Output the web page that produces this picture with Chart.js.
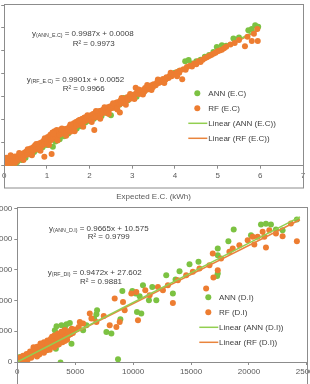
<!DOCTYPE html>
<html>
<head>
<meta charset="utf-8">
<script src="https://cdn.jsdelivr.net/npm/chart.js@4.4.1/dist/chart.umd.min.js"></script>
<style>
  html, body { margin: 0; padding: 0; background: #fff; }
  body { width: 310px; height: 384px; overflow: hidden; position: relative; }
  canvas { position: absolute; }
  #ecChart { left: 0; top: 0; width: 310px; height: 204px; }
  #diChart { left: -30px; top: 200px; width: 350px; height: 190px; }
</style>
</head>
<body>
<canvas id="ecChart" width="310" height="204"></canvas>
<canvas id="diChart" width="350" height="190"></canvas>
<script>
const GREEN = "#7cc242", ORANGE = "#ed7d31";
const GREEN_LINE = "#92cf50", ORANGE_LINE = "#e9843c";
const AXIS = "#8c8c8c", TXT = "#595959", EQ = "#404040";
const FONT = '"Liberation Sans", Arial, sans-serif';

// ---- E.C chart (top) ----
const ecAnn = [
  [0.00,-0.10],[0.05,0.00],[0.10,0.05],[0.24,0.00],[0.30,0.15],[0.40,0.25],[0.50,0.35],[0.60,0.50],
  [0.70,0.60],[0.80,0.70],[0.90,0.80],[1.00,0.90],[1.14,0.83],[1.20,1.05],[1.30,1.15],[1.40,1.28],
  [1.50,1.40],[1.60,1.55],[1.70,1.62],[1.80,1.72],[1.90,1.88],[2.00,1.95],[2.10,2.05],[2.20,2.12],
  [2.28,2.16],[2.40,2.30],[2.50,2.20],[2.60,2.52],[2.70,2.65],[2.80,2.95],[2.90,2.85],[3.00,3.08],
  [3.10,3.00],[3.20,3.22],[3.30,3.28],[3.40,3.42],[3.50,3.48],[3.60,3.65],[3.70,3.72],[3.80,3.80],
  [3.90,3.95],[4.00,4.05],[4.10,4.12],[4.24,4.55],[4.32,4.60],[4.40,4.45],[4.50,4.55],[4.60,4.62],
  [4.70,4.75],[4.80,4.82],[4.90,4.95],[4.98,5.17],[5.10,5.25],[5.20,5.22],[5.37,5.54],[5.50,5.58],
  [5.72,5.90],[5.80,5.95],[5.88,6.12],[5.95,6.05]
];
const ecRf = [
  [0.00,0.05],[0.02,0.20],[0.04,0.10],[0.06,0.28],[0.08,0.02],[0.10,0.15],[0.12,0.32],[0.14,0.08],
  [0.16,0.22],[0.18,0.12],[0.20,0.30],[0.22,0.18],[0.25,0.40],[0.27,0.25],[0.30,0.20],[0.32,0.42],
  [0.34,0.30],[0.37,0.48],[0.40,0.35],[0.42,0.52],[0.45,0.40],[0.48,0.58],[0.50,0.45],
  [0.52,0.62],[0.55,0.50],[0.57,0.70],[0.60,0.55],[0.62,0.75],[0.65,0.60],[0.68,0.80],[0.70,0.68],
  [0.72,0.88],[0.75,0.72],[0.78,0.92],[0.80,0.78],[0.83,0.98],[0.85,0.82],[0.88,1.02],[0.90,0.88],
  [0.93,1.10],[0.94,0.39],[0.95,0.95],[0.98,1.15],
  [1.00,1.00],[1.02,1.25],[1.05,1.08],[1.08,1.35],[1.10,1.12],[1.11,0.51],[1.13,1.45],[1.15,1.20],
  [1.18,1.50],[1.20,1.25],[1.23,1.55],[1.25,1.30],[1.28,1.52],[1.30,1.35],[1.33,1.58],[1.35,1.40],
  [1.38,1.55],[1.40,1.45],[1.43,1.60],[1.45,1.50],[1.48,1.62],
  [1.50,1.55],[1.53,1.70],[1.55,1.48],[1.58,1.75],[1.60,1.62],[1.63,1.85],[1.65,1.68],[1.68,1.90],
  [1.70,1.75],[1.73,1.95],[1.75,1.80],[1.78,2.00],[1.80,1.85],[1.83,2.05],[1.85,1.90],[1.88,2.10],
  [1.90,1.95],[1.93,2.12],[1.95,2.00],[1.98,2.15],
  [2.00,2.05],[2.03,2.20],[2.05,2.02],[2.08,2.25],[2.11,1.55],[2.10,2.10],[2.13,2.30],[2.15,2.12],
  [2.18,2.32],[2.20,2.18],[2.23,2.38],[2.25,2.22],[2.28,2.40],[2.30,2.28],[2.33,2.45],[2.35,2.32],
  [2.38,2.50],[2.40,2.38],[2.43,2.55],[2.45,2.42],[2.48,2.58],
  [2.50,2.50],[2.53,2.62],[2.55,2.52],[2.58,2.68],[2.60,2.58],[2.63,2.75],[2.65,2.62],[2.68,2.78],
  [2.71,2.32],[2.70,2.68],[2.73,2.85],[2.75,2.72],[2.78,2.88],[2.80,2.78],[2.83,2.92],[2.85,2.82],
  [2.88,2.98],[2.90,2.88],[2.93,3.02],[2.95,2.92],[2.98,3.05],
  [3.00,3.00],[3.05,3.10],[3.08,3.40],[3.10,3.18],[3.15,3.12],[3.18,3.25],[3.20,3.15],[3.25,3.30],
  [3.28,3.22],[3.30,3.38],[3.35,3.32],[3.38,3.45],[3.40,3.35],[3.45,3.50],[3.48,3.42],
  [3.50,3.55],[3.55,3.50],[3.58,3.62],[3.62,3.60],[3.65,3.70],[3.70,3.65],[3.72,3.78],[3.78,3.75],
  [3.80,3.85],[3.85,3.82],[3.88,3.92],[3.92,3.90],[3.95,4.00],[4.00,3.98],[4.05,4.08],[4.10,4.05],
  [4.12,4.15],[4.17,3.77],[4.20,4.20],[4.25,4.18],[4.28,4.30],
  [4.35,4.35],[4.40,4.32],[4.45,4.45],[4.50,4.42],[4.55,4.55],[4.60,4.52],[4.65,4.62],[4.70,4.68],
  [4.75,4.72],[4.80,4.78],[4.85,4.82],[4.90,4.88],[4.95,4.92],[5.00,4.98],[5.05,5.02],[5.10,5.05],
  [5.15,5.12],[5.20,5.18],[5.30,5.28],[5.40,5.35],[5.50,5.48],[5.64,5.20],[5.70,5.62],[5.80,5.43],
  [5.85,5.75],[5.93,5.95],[5.94,5.43],
  [0.05,0.35],[0.15,0.45],[0.25,0.10],[0.35,0.55],[0.45,0.25],[0.55,0.72],[0.65,0.45],[0.75,0.95],
  [0.85,0.65],[0.95,1.20],[1.05,0.90],[1.15,1.40],[1.25,1.10],[1.35,1.62],[1.45,1.30],[1.55,1.80],
  [1.65,1.50],[1.75,1.98],[1.85,1.70],[1.95,2.20],[2.05,1.90],[2.15,2.38],[2.25,2.05],[2.35,2.55],
  [2.45,2.25],[2.55,2.72],[2.65,2.45],[2.75,2.95],[2.85,2.65],[2.95,3.12],[3.05,2.90],[3.15,3.32],
  [3.25,3.10],[3.35,3.52],[3.45,3.30],[3.60,3.75],[3.75,3.60],[3.90,4.05],[4.05,3.90]
];
const ecFitAnn = [0.9987, 0.0008];   // slope, intercept
const ecFitRf = [0.9901, 0.0052];
const ecFitX = [0, 5.95];

// ---- D.I chart (bottom) ----
const diAnn = [
  [86,163],[230,815],[660,543],[1378,1358],[2526,1900],[3330,2172],[4678,2987],[3243,5159],
  [3387,5810],[3817,5973],[4105,5593],[4248,6136],[4535,6353],[5683,5159],[5970,5973],[3731,-100],
  [6630,7059],[6830,7765],[6888,8417],[7692,4887],[8122,4616],[8696,434],[8897,6950],[9069,11566],
  [9930,11566],[10217,11132],[10332,8145],[10562,10697],[10705,7874],[10849,12489],[11365,10046],
  [11652,12218],[12000,10046],[12858,14118],[13432,11132],[13663,13412],[14005,14770],[14867,15910],
  [15642,16290],[17250,14000],[17306,14390],[17306,17376],[17306,18462],[18224,19657],[18684,21557],
  [20176,20634],[21037,22372],[21468,22481],[21898,22372],[22329,21557],[22903,21449],[24137,23186]
];
const diRf = [
  [50,80],[150,300],[250,120],[300,450],[400,250],[450,600],[550,380],[600,750],[700,500],[750,900],
  [850,650],[900,1100],[1000,800],[1050,1250],[1150,950],[1200,1400],[1300,1100],[1350,1600],
  [1450,1250],[1500,1800],[1600,1400],[1650,1900],[1750,1550],[1800,2100],[1900,1700],[1950,2300],
  [2050,1850],[2100,2500],[2200,2000],[2250,2600],[2350,2150],[2400,2800],[2500,2300],[2550,2950],
  [2650,2450],[2700,3100],[2800,2600],[2850,3300],[2950,2750],[3000,3500],[3100,2900],[3150,3600],
  [3250,3050],[3300,3750],[3400,3200],[3450,3900],[3550,3400],[3600,4100],[3700,3550],[3750,4300],
  [3850,3700],[3900,4500],[4000,3900],[4100,4600],[4200,4100],[4300,4800],[4400,4300],[4500,5000],
  [4600,4500],[1400,2400],[2000,3000],[2600,3500],[3000,4100],[3500,4600],[900,400],[1700,900],
  [2300,1500],[2800,2000],[3200,2400],
  [200,700],[500,1000],[800,1300],[1100,1700],[1400,2000],[1700,2500],[2000,2700],[2300,3200],
  [2600,3000],[2900,3800],[3200,4300],[3500,3900],[3800,4900],[4100,5200],[4400,4900],[4700,5400],
  [4300,3600],[3900,3200],[3500,2800],[600,200],[1200,700],[1900,1200],[2500,1900],[3600,2900],
  [4100,3400],[4800,4700],[5000,5300],
  [5310,5700],[5396,6516],[5680,6245],[6257,7874],[6400,7059],[6830,6516],[7462,7493],[7979,5973],
  [8409,10317],[8553,5702],[8840,6516],[9127,9774],[9270,8417],[9844,11132],[10274,11403],
  [10418,6788],[11049,11675],[11423,10860],[12140,12218],[12571,11675],[13001,12489],[13432,9611],
  [13862,13304],[14580,14118],[15154,14661],[15728,15204],[16302,11946],[16589,15747],[16876,17648],
  [16932,13738],[17306,14933],[17593,16833],[18310,17919],[18598,18462],[19172,19005],[19890,19820],
  [20320,20363],[20463,19114],[20750,20363],[21181,21177],[21325,20363],[21468,18625],[21755,21449],
  [22329,20906],[22903,20471],[23620,22535],[24137,19657]
];
const diFitAnn = [0.9665, 10.575];
const diFitRf = [0.9472, 27.602];
const diFitX = [0, 24400];

function pts(list) { return list.map(p => ({ x: p[0], y: p[1] })); }
function fitLine(fit, xs) { return xs.map(x => ({ x, y: fit[0] * x + fit[1] })); }

// frame, custom legend and regression equations
function makeNotes(cfg) {
  return {
    id: "notes",
    afterDraw(chart) {
      const { ctx, chartArea } = chart;
      ctx.save();
      ctx.strokeStyle = AXIS;
      ctx.lineWidth = 1;
      const l = Math.round(chartArea.left) + 0.5, r = Math.round(chartArea.right) + 0.5;
      const t = Math.round(chartArea.top) - 0.5;
      const b = cfg.frameBottom === null ? chart.height + 5 : chartArea.bottom + cfg.frameBottom;
      ctx.strokeRect(l, t, r - l, b - t);

      ctx.textBaseline = "middle";
      const L = cfg.legend;
      L.items.forEach((it, i) => {
        const y = L.y + i * 15;
        if (it.line) {
          ctx.strokeStyle = it.color;
          ctx.lineWidth = 1.5;
          ctx.beginPath();
          ctx.moveTo(L.mx - 9, y);
          ctx.lineTo(L.mx + 10, y);
          ctx.stroke();
        } else {
          ctx.fillStyle = it.color;
          ctx.beginPath();
          ctx.arc(L.mx, y, 3, 0, Math.PI * 2);
          ctx.fill();
        }
        ctx.fillStyle = EQ;
        ctx.font = "8px " + FONT;
        ctx.fillText(it.text, L.tx, y);
      });

      cfg.eqs.forEach(e => {
        ctx.fillStyle = EQ;
        ctx.font = "8px " + FONT;
        ctx.fillText("y", e.x, e.y);
        let x = e.x + ctx.measureText("y").width;
        ctx.font = "5.3px " + FONT;
        ctx.fillText(e.sub, x, e.y + 2);
        x += ctx.measureText(e.sub).width;
        ctx.font = "8px " + FONT;
        ctx.fillText(" = " + e.text, x, e.y);
        ctx.fillText(e.r2, e.rx, e.ry);
      });
      ctx.restore();
    }
  };
}

// lineOrder: 0 = trend lines over the points, 3 = under them
function datasets(ann, rf, fitA, fitR, fitX, lineOrder) {
  return [
    { type: "line", data: fitLine(fitA, fitX), borderColor: GREEN_LINE, borderWidth: 1.5, pointRadius: 0, showLine: true, order: lineOrder },
    { type: "line", data: fitLine(fitR, fitX), borderColor: ORANGE_LINE, borderWidth: 1.5, pointRadius: 0, showLine: true, order: lineOrder },
    { data: pts(rf), backgroundColor: ORANGE, borderWidth: 0, pointRadius: 3, order: 1 },
    { data: pts(ann), backgroundColor: GREEN, borderWidth: 0, pointRadius: 3, order: 2 },
  ];
}

function axisOpts(min, max, step, extra) {
  return Object.assign({
    type: "linear", min, max,
    ticks: { stepSize: step, padding: 2, color: TXT, maxRotation: 0, autoSkip: false, callback: v => String(v) },
    grid: { drawOnChartArea: false, drawTicks: true, tickLength: 3, color: AXIS },
    border: { color: AXIS, width: 1 },
  }, extra);
}

Chart.defaults.font.family = FONT;
Chart.defaults.font.size = 8;

new Chart(document.getElementById("ecChart"), {
  type: "scatter",
  data: { datasets: datasets(ecAnn, ecRf, ecFitAnn, ecFitRf, ecFitX, 3) },
  options: {
    responsive: false, animation: false, events: [],
    layout: { padding: { top: 5, right: 7, left: 0, bottom: 0 } },
    plugins: { legend: { display: false }, tooltip: { enabled: false } },
    scales: {
      x: axisOpts(0, 7, 1, {
        title: { display: true, text: "Expected E.C. (kWh)", color: TXT, padding: { top: 0, bottom: 2 } },
        afterFit(s) { s.height = 38.3; }
      }),
      y: axisOpts(0, 7, 1, { afterFit(s) { s.width = 3; } }),
    }
  },
  plugins: [makeNotes({
    frameBottom: 22.3,
    legend: {
      mx: 197.3, tx: 208.3, y: 93.3,
      items: [
        { color: GREEN, text: "ANN (E.C)" },
        { color: ORANGE, text: "RF (E.C)" },
        { color: GREEN_LINE, text: "Linear (ANN (E.C))", line: true },
        { color: ORANGE_LINE, text: "Linear (RF (E.C))", line: true },
      ]
    },
    eqs: [
      { x: 32, y: 34, sub: "(ANN_E.C)", text: "0.9987x + 0.0008", r2: "R² = 0.9973", rx: 72.7, ry: 43.3 },
      { x: 26.7, y: 79.7, sub: "(RF_E.C)", text: "0.9901x + 0.0052", r2: "R² = 0.9966", rx: 62.7, ry: 88.3 },
    ]
  })]
});
// y tick labels of the top chart fall outside the picture
Chart.getChart("ecChart").options.scales.y.ticks.display = false;
Chart.getChart("ecChart").update("none");

new Chart(document.getElementById("diChart"), {
  type: "scatter",
  data: { datasets: datasets(diAnn, diRf, diFitAnn, diFitRf, diFitX, 0) },
  options: {
    responsive: false, animation: false, events: [],
    layout: { padding: { top: 8.3, right: 11.7, left: 0, bottom: 0 } },
    plugins: { legend: { display: false }, tooltip: { enabled: false } },
    scales: {
      x: axisOpts(0, 25000, 5000, { afterFit(s) { s.height = 28; } }),
      y: axisOpts(0, 25000, 5000, { afterFit(s) { s.width = 47.3; } }),
    }
  },
  plugins: [makeNotes({
    frameBottom: null,
    legend: {
      mx: 238.3, tx: 249, y: 97.3,
      items: [
        { color: GREEN, text: "ANN (D.I)" },
        { color: ORANGE, text: "RF (D.I)" },
        { color: GREEN_LINE, text: "Linear (ANN (D.I))", line: true },
        { color: ORANGE_LINE, text: "Linear (RF (D.I))", line: true },
      ]
    },
    eqs: [
      { x: 79, y: 28.3, sub: "(ANN_D.I)", text: "0.9665x + 10.575", r2: "R² = 0.9799", rx: 117.7, ry: 36.7 },
      { x: 77.7, y: 72.7, sub: "(RF_DI)", text: "0.9472x + 27.602", r2: "R² = 0.9881", rx: 110, ry: 81.7 },
    ]
  })]
});
</script>
</body>
</html>
